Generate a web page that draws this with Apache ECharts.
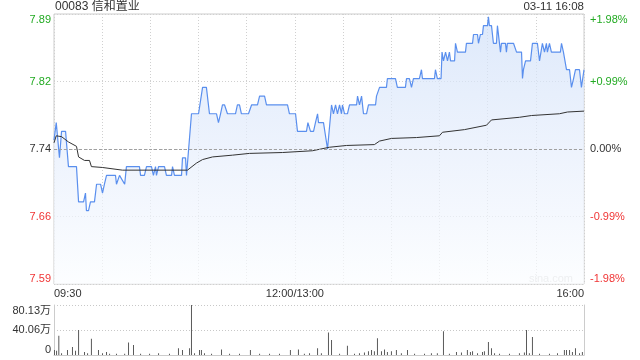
<!DOCTYPE html>
<html><head><meta charset="utf-8">
<script src="https://cdn.jsdelivr.net/npm/echarts@6/dist/echarts.min.js"></script>
<style>html,body{margin:0;padding:0;background:#fff}#c{width:640px;height:360px}</style>
</head><body><div id="c"></div>
<script>
const titleText = '00083 信和置业';
const stampText = '03-11 16:08';
const prevClose = 7.74;
const pctStep = 0.99;
const timeTicks = {0: '09:30', 150: '12:00/13:00', 330: '16:00'};
const priceTicks = ['7.59', '7.66', '7.74', '7.82', '7.89'];
const pctTicks = ['-1.98%', '-0.99%', '0.00%', '+0.99%', '+1.98%'];
const volTicks = ['0', '40.06万', '80.13万'];
const volMax = 80.13;

// [minute since 09:30, price]
const priceData = [[0,7.75],[1.4,7.77],[3.4,7.73],[4.7,7.76],[7.2,7.76],[9.0,7.72],[14.0,7.72],[15.3,7.68],[18.4,7.68],[19.6,7.69],[20.2,7.67],[21.5,7.67],[22.7,7.68],[25.2,7.68],[26.5,7.70],[29.0,7.70],[30.2,7.69],[31.4,7.70],[32.7,7.71],[38.3,7.71],[38.9,7.70],[40.8,7.71],[42.0,7.71],[44.0,7.70],[45.1,7.72],[53.2,7.72],[53.9,7.71],[56.3,7.71],[57.6,7.72],[60.7,7.72],[61.9,7.71],[63.2,7.72],[63.8,7.71],[65.1,7.72],[68.8,7.72],[70.0,7.71],[73.2,7.71],[73.8,7.72],[75.0,7.71],[79.4,7.71],[80.0,7.73],[81.9,7.73],[82.5,7.71],[85.6,7.78],[90.0,7.78],[92.5,7.81],[94.9,7.81],[96.8,7.78],[101.2,7.78],[102.4,7.77],[103.7,7.78],[104.9,7.79],[106.2,7.79],[108.0,7.78],[113.0,7.78],[114.2,7.79],[115.5,7.79],[116.7,7.78],[121.1,7.78],[123.0,7.79],[126.7,7.79],[128.0,7.80],[131.1,7.80],[132.3,7.79],[145.4,7.79],[146.6,7.78],[150.4,7.78],[151.6,7.76],[157.2,7.76],[158.1,7.77],[159.7,7.76],[161.6,7.76],[162.8,7.77],[164.1,7.78],[164.7,7.77],[167.8,7.77],[170.3,7.74],[171.5,7.74],[172.8,7.79],[174.0,7.78],[175.3,7.79],[176.5,7.78],[177.8,7.79],[179.0,7.78],[179.6,7.79],[180.9,7.78],[182.7,7.78],[184.0,7.79],[188.4,7.79],[189.0,7.80],[190.2,7.79],[191.5,7.80],[192.7,7.78],[194.6,7.78],[195.8,7.79],[200.2,7.79],[200.8,7.80],[202.7,7.81],[207.0,7.81],[207.6,7.82],[212.6,7.82],[213.8,7.81],[218.8,7.81],[219.5,7.82],[221.3,7.82],[222.6,7.81],[223.8,7.82],[227.5,7.82],[228.8,7.83],[229.4,7.82],[236.9,7.82],[237.5,7.83],[238.7,7.82],[241.0,7.82],[241.6,7.85],[242.5,7.84],[243.8,7.85],[245.0,7.84],[246.2,7.85],[246.9,7.84],[249.4,7.84],[250.0,7.86],[251.2,7.85],[256.2,7.85],[256.8,7.86],[260.6,7.86],[261.2,7.87],[263.7,7.87],[264.3,7.86],[265.5,7.87],[266.8,7.87],[267.4,7.88],[269.9,7.88],[270.5,7.89],[271.1,7.88],[272.4,7.88],[273.6,7.86],[275.5,7.86],[276.1,7.88],[278.0,7.85],[278.6,7.86],[281.1,7.86],[281.7,7.85],[282.3,7.86],[286.1,7.86],[288.0,7.85],[291.1,7.85],[291.7,7.82],[292.3,7.83],[293.6,7.84],[296.7,7.84],[297.9,7.86],[301.0,7.86],[302.3,7.84],[303.5,7.84],[304.1,7.86],[305.4,7.85],[306.6,7.86],[307.2,7.85],[308.5,7.86],[309.7,7.85],[315.3,7.85],[316.0,7.86],[317.2,7.85],[319.1,7.83],[321.0,7.83],[322.2,7.81],[323.5,7.82],[324.7,7.83],[327.2,7.83],[328.4,7.81],[330,7.83]];

// [minute, average price]
const avgData = [[0,7.747],[1.4,7.755],[4.7,7.754],[9.0,7.748],[14.0,7.743],[15.3,7.731],[19.0,7.727],[22.1,7.727],[23.3,7.720],[30.2,7.719],[42.6,7.716],[83.1,7.716],[88.7,7.724],[92.5,7.728],[98.7,7.731],[111.1,7.733],[121.7,7.735],[142.2,7.736],[160.9,7.738],[171.5,7.742],[182.1,7.744],[199.5,7.745],[202.7,7.749],[210.1,7.752],[225.7,7.753],[240.0,7.755],[241.9,7.759],[255.6,7.762],[269.3,7.767],[272.4,7.773],[289.8,7.776],[297.3,7.778],[314.7,7.780],[319.7,7.782],[330,7.783]];

// [minute, volume in 万]
const volData = [[0.3,8],[1.6,7],[3.0,31],[4.7,3],[8.4,8],[11.5,13],[13.4,7],[15.3,40],[19.0,5],[20.9,3],[23.3,26],[27.7,8],[30.2,3],[32.7,5],[34.6,2],[38.9,2],[44.0,2],[46.4,20],[49.5,16],[53.9,2],[59.5,2],[65.1,3],[71.9,2],[77.5,11],[80.0,8],[84.4,11],[85.6,80.13],[87.5,3],[90.6,8],[91.8,8],[93.7,3],[98.1,2],[104.3,9],[109.3,2],[115.5,2],[122.3,8],[128.0,2],[134.2,2],[140.4,2],[147.2,8],[152.2,9],[155.9,2],[159.1,3],[164.1,11],[166.5,3],[170.9,36],[172.8,24],[177.8,2],[182.7,15],[187.1,2],[190.2,3],[193.3,4],[195.8,6],[197.7,8],[199.5,6],[201.4,27],[203.9,6],[205.8,9],[207.6,5],[210.1,6],[213.2,8],[216.3,3],[220.1,8],[224.5,2],[230.7,2],[235.0,3],[238.7,3],[242.5,38],[246.2,2],[250.6,5],[253.7,4],[257.4,8],[259.3,5],[260.6,6],[263.7,3],[266.8,5],[268.0,6],[270.5,21],[272.4,11],[274.3,3],[277.4,2],[283.6,2],[289.8,3],[292.9,4],[294.2,40],[296.0,3],[297.9,29],[302.3,2],[308.5,2],[313.5,3],[317.8,8],[319.1,8],[321.0,8],[322.8,5],[324.7,11],[327.2,3],[329.0,5]];

const toUnit = p => (p - prevClose) / (prevClose * pctStep / 100);
const FONT = '"Liberation Sans", Arial, "Noto Sans CJK SC", sans-serif';
const GREEN = '#22aa22', RED = '#f03535', DARK = '#333';
const colorFor = v => { v = parseFloat(v); return v > 0.01 ? GREEN : (v < -0.01 ? RED : DARK); };
const grid0 = {left: 54, right: 56, top: 14, height: 270};
const grid1 = {left: 54, right: 56, top: 305, height: 50};

const chart = echarts.init(document.getElementById('c'), null, {renderer: 'canvas'});
chart.setOption({
  animation: false,
  backgroundColor: '#fff',
  textStyle: {fontFamily: FONT},
  grid: [
    Object.assign({show: true, borderColor: '#cccccc', borderWidth: 1, backgroundColor: 'transparent'}, grid0),
    Object.assign({show: false}, grid1)
  ],
  graphic: [
    {type: 'text', left: 55, top: 1, style: {text: titleText, fill: '#333', font: '12px ' + FONT}},
    {type: 'text', right: 56, top: 1, style: {text: stampText, fill: '#333', font: '11.5px ' + FONT}},
    {type: 'text', right: 67, top: 273, style: {text: 'sina.com', fill: '#cfcfcf', font: '11px ' + FONT}, z: 1}
  ],
  xAxis: [
    {type: 'value', gridIndex: 0, min: 0, max: 330, interval: 30,
     axisLine: {show: false}, axisTick: {show: false},
     splitLine: {show: true, lineStyle: {color: '#d0d0d0', type: [1, 2]}},
     axisLabel: {formatter: v => timeTicks[v] || '', showMinLabel: true, showMaxLabel: true,
                 alignMinLabel: 'left', alignMaxLabel: 'right', color: '#333', fontSize: 11, margin: 4}},
    {type: 'value', gridIndex: 1, min: 0, max: 330, interval: 30,
     axisLine: {show: true, lineStyle: {color: '#cccccc'}}, axisTick: {show: false},
     splitLine: {show: false}, axisLabel: {show: false}}
  ],
  yAxis: [
    {type: 'value', gridIndex: 0, position: 'left', min: -2, max: 2, interval: 1,
     axisLine: {show: false}, axisTick: {show: false},
     splitLine: {show: true, lineStyle: {color: '#d0d0d0', type: [1, 2]}},
     axisLabel: {formatter: v => priceTicks[Math.round(v) + 2], color: colorFor, fontSize: 11, margin: 3,
                 verticalAlignMinLabel: 'bottom', verticalAlignMaxLabel: 'top'}},
    {type: 'value', gridIndex: 0, position: 'right', min: -2, max: 2, interval: 1,
     axisLine: {show: false}, axisTick: {show: false}, splitLine: {show: false},
     axisLabel: {formatter: v => pctTicks[Math.round(v) + 2], color: colorFor, fontSize: 11, margin: 6,
                 verticalAlignMinLabel: 'bottom', verticalAlignMaxLabel: 'top'}},
    {type: 'value', gridIndex: 1, position: 'left', min: 0, max: volMax, interval: volMax / 2,
     axisLine: {show: true, lineStyle: {color: '#cccccc'}}, axisTick: {show: false},
     splitLine: {show: true, lineStyle: {color: '#c8c8c8', type: [1, 2]}},
     axisLabel: {formatter: v => volTicks[Math.round(v / (volMax / 2))], color: '#333', fontSize: 11, margin: 3,
                 verticalAlignMinLabel: 'bottom', verticalAlignMaxLabel: 'top'}},
    {type: 'value', gridIndex: 1, position: 'right', min: 0, max: volMax, interval: volMax / 2,
     axisLine: {show: true, lineStyle: {color: '#cccccc'}}, axisTick: {show: false},
     splitLine: {show: false}, axisLabel: {show: false}}
  ],
  series: [
    {type: 'line', xAxisIndex: 0, yAxisIndex: 0, showSymbol: false, symbol: 'none',
     data: priceData.map(d => [d[0], toUnit(d[1])]),
     lineStyle: {color: '#5a8fee', width: 1.2},
     areaStyle: {origin: 'start', color: new echarts.graphic.LinearGradient(0, 0, 0, 1, [
       {offset: 0, color: '#d0e0f9'}, {offset: 0.5, color: '#e6eefc'}, {offset: 1, color: '#fbfdff'}])},
     markLine: {silent: true, symbol: 'none', label: {show: false},
                lineStyle: {color: '#a0a0a0', type: [3, 2], width: 1},
                data: [{yAxis: 0}]},
     z: 2},
    {type: 'line', xAxisIndex: 0, yAxisIndex: 0, showSymbol: false, symbol: 'none',
     data: avgData.map(d => [d[0], toUnit(d[1])]),
     lineStyle: {color: '#333333', width: 1}, z: 3},
    {type: 'bar', xAxisIndex: 1, yAxisIndex: 2, data: volData, barWidth: 1,
     itemStyle: {color: '#5a5a5a'}}
  ]
});
</script></body></html>
